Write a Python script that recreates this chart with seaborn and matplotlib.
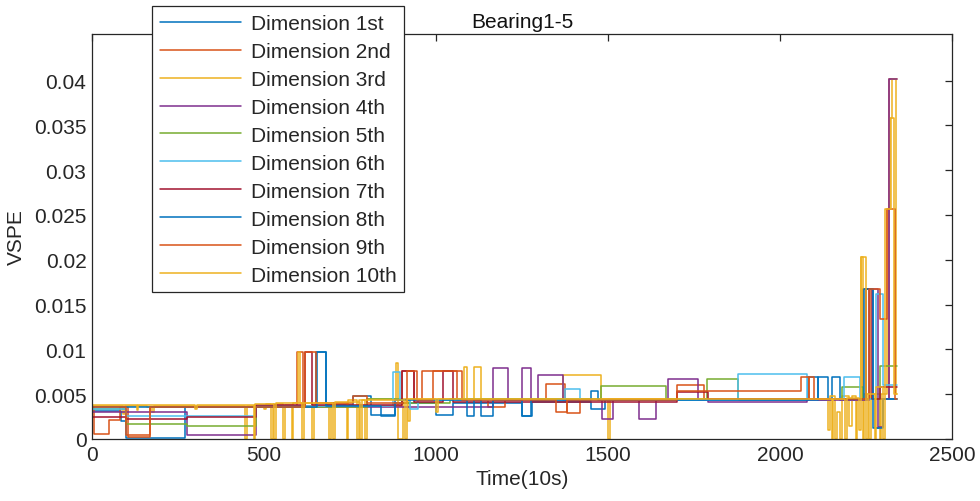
import numpy as np
import pandas as pd
import seaborn as sns
import matplotlib
matplotlib.use("Agg")
import matplotlib.pyplot as plt

# Step breakpoints (time in 10 s units, VSPE value)
t_end = 2340

d1_t = [0, 85, 100, 270, 470, 650, 680, 760, 810, 880, 1000, 1050, 1250, 1280, 1450, 1490, 2080, 2110, 2150, 2175, 2250, 2270, 2290]
d1_v = [.0031, .0020, .0001, .0036, .0037, .0097, .0038, .0048, .0027, .0040, .0027, .0040, .0026, .0041, .0033, .0044, .0069, .0044, .0069, .0044, .0167, .0012, .0045]

d2_t = [0, 5, 50, 80, 105, 170, 597, 612, 900, 935, 960, 1060, 1150, 1200, 1320, 1375, 1380, 1420, 1700, 1780, 2085, 2100, 2240, 2262, 2317]
d2_v = [.0036, .0006, .0021, .0036, .0002, .0036, .0097, .0037, .0076, .0043, .0076, .0043, .0036, .0043, .0061, .0043, .0029, .0045, .0060, .0045, .0069, .0045, .0167, .0045, .0402]

d3_t = [0, 90, 95, 160, 175, 180, 445, 450, 500, 505, 520, 525, 555, 560, 580, 585, 600, 605, 640, 645, 690, 695,
        740, 745, 770, 775, 795, 800, 885, 890, 905, 920, 925, 1080, 1090, 1110, 1130, 1370, 1480, 1500, 1505,
        2140, 2145, 2160, 2165, 2175, 2180, 2200, 2210, 2220, 2225, 2235, 2240, 2245, 2260, 2265, 2290, 2295, 2310, 2320, 2326, 2336]
d3_v = [.0037, .0028, .0037, .0036, .0030, .0037, .0, .0037, .0033, .0039, .0, .0039, .0, .0038, .0, .0040, .0097, .0040, .0, .0040, .0, .0040,
        .0, .0044, .0, .0044, .0, .0045, .0085, .0, .0045, .0020, .0045, .0080, .0045, .0080, .0045, .0071, .0045, .0, .0045,
        .0010, .0048, .0, .0030, .0, .0048, .0015, .0048, .0, .0045, .0203, .0, .0050, .0, .0050, .0, .0050, .0257, .0358, .0402, .0050]

d4_t = [0, 275, 477, 1165, 1210, 1250, 1275, 1297, 1370, 1483, 1515, 1590, 1640, 1675, 1762, 1790, 2078, 2260, 2285, 2300, 2317]
d4_v = [.0030, .0004, .0036, .0079, .0043, .0079, .0043, .0071, .0043, .0022, .0043, .0022, .0043, .0067, .0043, .0041, .0043, .0167, .0013, .0045, .0402]

d5_t = [0, 100, 275, 477, 800, 900, 1040, 1480, 1670, 1787, 1877, 2180, 2240, 2290]
d5_v = [.0033, .0017, .0014, .0036, .0045, .0040, .0045, .0059, .0045, .0067, .0045, .0058, .0045, .0082]

d6_t = [0, 100, 477, 876, 895, 925, 948, 1375, 1420, 1877, 2078, 2185, 2233, 2280, 2300]
d6_v = [.0033, .0026, .0037, .0075, .0043, .0034, .0043, .0056, .0043, .0073, .0045, .0069, .0045, .0162, .0060]

d7_t = [0, 100, 275, 477, 620, 640, 900, 935, 1020, 1050, 1700, 1790, 2085, 2250, 2267, 2290]
d7_v = [.0025, .0022, .0024, .0038, .0097, .0038, .0076, .0041, .0076, .0041, .0052, .0045, .0045, .0167, .0045, .0058]

d8_t = [0, 470, 655, 680, 840, 880, 1090, 1110, 1130, 1165, 1250, 1275, 1450, 1470, 2110, 2140, 2245, 2270, 2275, 2300]
d8_v = [.0036, .0036, .0097, .0037, .0026, .0043, .0026, .0043, .0026, .0043, .0026, .0043, .0054, .0043, .0069, .0045, .0167, .0045, .0012, .0045]

d9_t = [0, 100, 170, 620, 650, 760, 800, 915, 945, 990, 1075, 1350, 1380, 1700, 2060, 2085, 2260, 2290, 2310, 2334]
d9_v = [.0036, .0004, .0036, .0097, .0040, .0048, .0040, .0076, .0043, .0076, .0043, .0030, .0043, .0054, .0069, .0045, .0167, .0134, .0257, .0045]

d10_t = [0, 130, 135, 300, 305, 470, 475, 530, 535, 610, 615, 700, 705, 780, 785, 910, 915, 1000, 1005,
         2150, 2155, 2190, 2195, 2230, 2236, 2250, 2255, 2275, 2280, 2300, 2305, 2322, 2332]
d10_v = [.0038, .0032, .0038, .0033, .0038, .0, .0039, .0, .0040, .0, .0040, .0, .0041, .0, .0044, .0, .0045, .0030, .0045,
         .0, .0045, .0, .0046, .0010, .0203, .0, .0050, .0, .0058, .0, .0257, .0358, .0050]

names = ['Dimension 1st', 'Dimension 2nd', 'Dimension 3rd', 'Dimension 4th', 'Dimension 5th',
         'Dimension 6th', 'Dimension 7th', 'Dimension 8th', 'Dimension 9th', 'Dimension 10th']
colors = ['#0072BD', '#D95319', '#EDB120', '#7E2F8E', '#77AC30',
          '#4DBEEE', '#A2142F', '#0072BD', '#D95319', '#EDB120']
series = [(d1_t, d1_v), (d2_t, d2_v), (d3_t, d3_v), (d4_t, d4_v), (d5_t, d5_v),
          (d6_t, d6_v), (d7_t, d7_v), (d8_t, d8_v), (d9_t, d9_v), (d10_t, d10_v)]

ytick_vals = [0, 0.005, 0.01, 0.015, 0.02, 0.025, 0.03, 0.035, 0.04]
ytick_labels = ['0', '0.005', '0.01', '0.015', '0.02', '0.025', '0.03', '0.035', '0.04']
xtick_vals = [0, 500, 1000, 1500, 2000, 2500]

sns.set_style('white')
plt.rcParams['font.family'] = ['Liberation Sans', 'DejaVu Sans']

fig = plt.figure(figsize=(9.8, 5.02), dpi=100)
ax = fig.add_axes([92 / 980, 62 / 502, 860 / 980, 405 / 502])

for name, col, (t, v) in zip(names, colors, series):
    df = pd.DataFrame({'t': list(t) + [t_end], 'v': list(v) + [v[-1]]})
    sns.lineplot(data=df, x='t', y='v', ax=ax, color=col, linewidth=1.1,
                 drawstyle='steps-post', estimator=None, sort=False, label=name)

ax.set_xlim(0, 2500)
ax.set_ylim(0, 0.0452)
ax.set_xticks(xtick_vals)
ax.set_yticks(ytick_vals)
ax.set_yticklabels(ytick_labels)
ax.tick_params(direction='in', top=True, right=True, length=5, width=0.9,
               labelsize=15, colors='#262626', pad=4)
for s in ax.spines.values():
    s.set_color('#262626')
    s.set_linewidth(0.9)

ax.set_xlabel('Time(10s)', fontsize=15, color='#262626', labelpad=4)
ax.set_ylabel('VSPE', fontsize=15, color='#262626', labelpad=6)
ax.set_title('Bearing1-5', fontsize=15, color='#111111', pad=5)

leg = ax.legend(loc='upper left', bbox_to_anchor=((152 - 92) / 860, (440 - 7) / 405),
                borderaxespad=0, fancybox=False, framealpha=1, edgecolor='#262626',
                fontsize=15, handlelength=3.9, handletextpad=0.45, labelspacing=0.43,
                borderpad=0.38)
leg.get_frame().set_linewidth(0.9)
for line in leg.get_lines():
    line.set_linewidth(1.1)

fig.savefig('out.png', dpi=100)
